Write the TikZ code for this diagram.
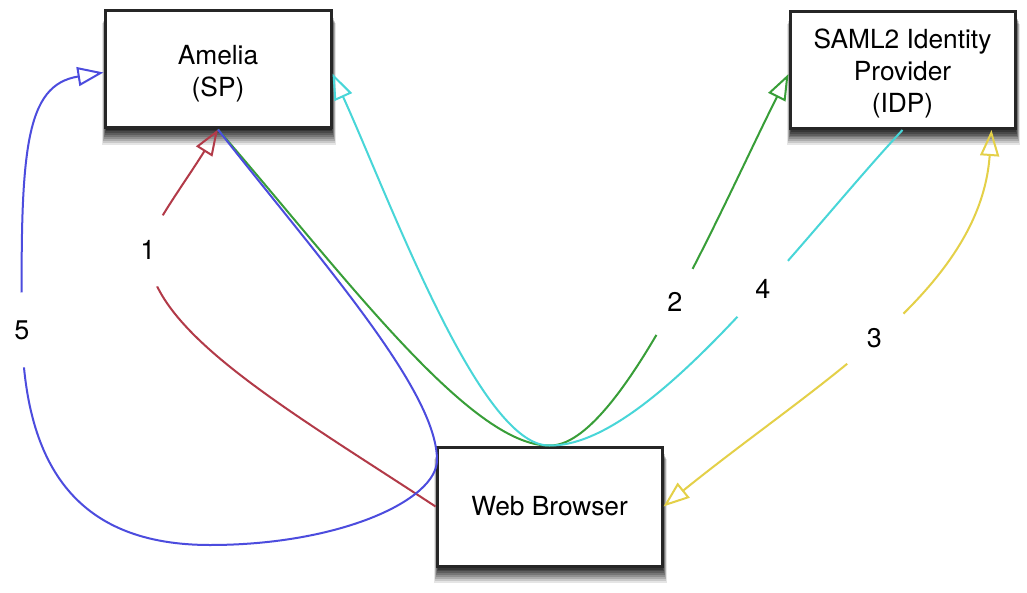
\documentclass[tikz,border=0pt]{standalone}
\usepackage{fontspec}
\setmainfont{TeX Gyre Heros}
\usetikzlibrary{arrows.meta,shadows}
\definecolor{redA}{RGB}{178,58,72}
\definecolor{greenA}{RGB}{56,158,56}
\definecolor{cyanA}{RGB}{72,214,216}
\definecolor{blueA}{RGB}{76,76,222}
\definecolor{yellowA}{RGB}{228,208,72}
\begin{document}
\begin{tikzpicture}[x=1pt,y=-1pt,
  sh/.style args={#1/#2/#3}{drop shadow={shadow xshift=1pt, shadow yshift=-#1pt, shadow scale=#2, opacity=#3, fill=black}},
  softshadow/.style={
    sh=14/1.035/.1, sh=12.5/1.03/.12, sh=11/1.025/.14, sh=9.5/1.02/.16,
    sh=8/1.015/.18, sh=6.5/1.01/.2, sh=5/1.005/.22, sh=3.5/1.0/.25, sh=2/1.0/.3},
  box/.style={draw=black!85, line width=3pt, fill=white, minimum width=226pt,
    minimum height=117pt, align=center, font=\fontsize{26.3}{32}\selectfont, softshadow},
  tipA/.tip={Triangle[open,length=26pt,width=19pt]},
  conn/.style={line width=2pt, -tipA},
  biconn/.style={line width=2pt, tipA-tipA},
  lbl/.style={circle, fill=white, inner sep=18pt, font=\fontsize{27}{27}\selectfont}]
\useasboundingbox (0,0) rectangle (1027,593);
\fill[white] (0,0) rectangle (1027,593);
% boxes
\node[box] (amelia) at (218,69.5) {\rule{0pt}{27pt}Amelia\\(SP)};
\node[box, minimum width=225pt] (idp) at (902.5,70) {\rule{0pt}{26pt}SAML2 Identity\\Provider\\(IDP)};
\node[box, minimum width=225pt, minimum height=119pt] (browser) at (549.5,506.5) {Web Browser};
% 1 red
\draw[conn, redA] (browser.west) .. controls (287,409) and (148,330) .. (148,250) coordinate (c1)
  .. controls (148,232) and (180,190) .. (amelia.south);
% 2 green
\draw[conn, greenA] (amelia.south) .. controls (340,270) and (470,447) .. (browser.north)
  .. controls (620,447) and (720,210) .. coordinate[pos=0.52] (c2) ([yshift=-4pt]idp.west);
% 4 cyan
\draw[conn, cyanA] (idp.south) .. controls (800,240) and (650,447) .. coordinate[pos=0.4] (c4) (browser.north)
  .. controls (480,447) and (390,200) .. ([yshift=-4pt]amelia.east);
% 3 yellow
\draw[biconn, yellowA] (browser.east) .. controls (820,380) and (980,290) .. coordinate[pos=0.48] (c3)
  ([xshift=-25pt]idp.south east);
% 5 blue
\draw[conn, blueA] (amelia.south) .. controls (320,260) and (437,390) .. (437,460)
  .. controls (437,500) and (340,545) .. (210,545)
  .. controls (80,545) and (24,470) .. (22,330) coordinate (c5)
  .. controls (20,150) and (25,85) .. ([yshift=-3pt]amelia.west);
% labels
\node[lbl] (l1) at (c1) {1};
\node[lbl] (l2) at (c2) {2};
\node[lbl] (l3) at (c3) {3};
\node[lbl] (l4) at (c4) {4};
\node[lbl] (l5) at (c5) {5};
\end{tikzpicture}
\end{document}
